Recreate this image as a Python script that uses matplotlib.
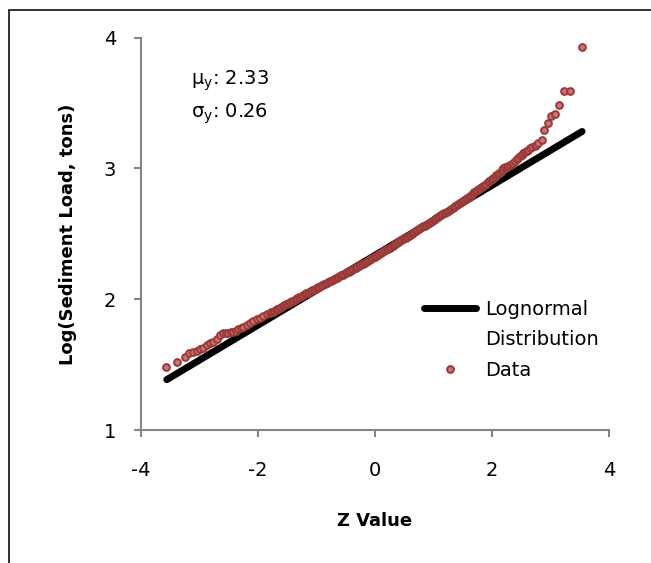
import numpy as np
import matplotlib.pyplot as plt
from matplotlib.lines import Line2D
from matplotlib.patches import Rectangle

plt.rcParams['font.family'] = ['DejaVu Sans']
plt.rcParams['axes.unicode_minus'] = False

# fitted lognormal line (end points)
line_z = [-3.56, 3.54]
line_y = [1.385, 3.283]

# data points, lower tail
low_z = [-3.573, -3.38, -3.253, -3.174, -3.106, -3.048, -2.991, -2.935, -2.877, -2.82,
         -2.764, -2.706, -2.65, -2.593, -2.55, -2.507, -2.46, -2.42, -2.38, -2.337,
         -2.29, -2.25, -2.19, -2.137, -2.08, -2.022, -1.965, -1.91, -1.85, -1.795]
low_y = [1.485, 1.523, 1.561, 1.587, 1.595, 1.607, 1.618, 1.630, 1.651, 1.668,
         1.676, 1.694, 1.727, 1.740, 1.742, 1.745, 1.748, 1.752, 1.760, 1.770,
         1.780, 1.790, 1.803, 1.816, 1.832, 1.847, 1.860, 1.872, 1.885, 1.893]

# data points, middle band
mid_z = [-1.775, -1.75, -1.725, -1.70, -1.675, -1.65, -1.625, -1.60, -1.575, -1.55,
         -1.525, -1.50, -1.475, -1.45, -1.425, -1.40, -1.375, -1.35, -1.325, -1.30,
         -1.275, -1.25, -1.225, -1.20, -1.175, -1.15, -1.125, -1.10, -1.075, -1.05,
         -1.025, -1.00, -0.975, -0.95, -0.925, -0.90, -0.875, -0.85, -0.825, -0.80,
         -0.775, -0.75, -0.725, -0.70, -0.675, -0.65, -0.625, -0.60, -0.575, -0.55,
         -0.525, -0.50, -0.475, -0.45, -0.425, -0.40, -0.375, -0.35, -0.325, -0.30,
         -0.275, -0.25, -0.225, -0.20, -0.175, -0.15, -0.125, -0.10, -0.075, -0.05,
         -0.025, 0.00, 0.025, 0.05, 0.075, 0.10, 0.125, 0.15, 0.175, 0.20,
         0.225, 0.25, 0.275, 0.30, 0.325, 0.35, 0.375, 0.40, 0.425, 0.45,
         0.475, 0.50, 0.525, 0.55, 0.575, 0.60, 0.625, 0.65, 0.675, 0.70,
         0.725, 0.75, 0.775, 0.80, 0.825, 0.85, 0.875, 0.90, 0.925, 0.95,
         0.975, 1.00, 1.025, 1.05, 1.075, 1.10, 1.125, 1.15, 1.175, 1.20,
         1.225, 1.25, 1.275, 1.30, 1.325, 1.35, 1.375, 1.40, 1.425, 1.45,
         1.475, 1.50, 1.525, 1.55, 1.575, 1.60, 1.625, 1.65, 1.675, 1.70,
         1.725, 1.75, 1.775, 1.80, 1.825, 1.85, 1.875, 1.90, 1.925, 1.95,
         1.975, 2.00, 2.025, 2.05, 2.075, 2.10, 2.125, 2.15, 2.172]
mid_y = [1.899, 1.904, 1.911, 1.917, 1.922, 1.928, 1.935, 1.941, 1.947, 1.953,
         1.960, 1.966, 1.972, 1.977, 1.983, 1.989, 1.996, 2.002, 2.008, 2.014,
         2.020, 2.026, 2.032, 2.038, 2.044, 2.050, 2.056, 2.062, 2.068, 2.074,
         2.080, 2.085, 2.091, 2.096, 2.102, 2.108, 2.114, 2.119, 2.125, 2.130,
         2.136, 2.142, 2.148, 2.153, 2.159, 2.164, 2.170, 2.176, 2.182, 2.187,
         2.193, 2.198, 2.205, 2.211, 2.217, 2.223, 2.230, 2.236, 2.242, 2.248,
         2.254, 2.260, 2.267, 2.273, 2.280, 2.286, 2.293, 2.299, 2.306, 2.313,
         2.320, 2.326, 2.333, 2.339, 2.347, 2.354, 2.361, 2.367, 2.374, 2.381,
         2.388, 2.395, 2.402, 2.409, 2.416, 2.422, 2.430, 2.437, 2.444, 2.450,
         2.458, 2.465, 2.472, 2.478, 2.485, 2.492, 2.500, 2.507, 2.514, 2.521,
         2.528, 2.535, 2.543, 2.550, 2.557, 2.564, 2.571, 2.578, 2.585, 2.592,
         2.599, 2.606, 2.613, 2.620, 2.628, 2.635, 2.642, 2.649, 2.656, 2.663,
         2.671, 2.678, 2.685, 2.692, 2.699, 2.706, 2.714, 2.722, 2.730, 2.737,
         2.745, 2.753, 2.761, 2.768, 2.776, 2.784, 2.793, 2.801, 2.809, 2.817,
         2.825, 2.833, 2.842, 2.851, 2.860, 2.868, 2.877, 2.885, 2.894, 2.903,
         2.912, 2.920, 2.929, 2.938, 2.948, 2.957, 2.966, 2.975, 2.988]

# data points, upper tail
high_z = [2.193, 2.222, 2.251, 2.28, 2.308, 2.336, 2.364, 2.393, 2.422, 2.45,
          2.479, 2.507, 2.535, 2.564, 2.593, 2.62, 2.65, 2.69, 2.735, 2.76,
          2.79, 2.855, 2.89, 2.96, 3.01, 3.07, 3.145, 3.23, 3.33, 3.54]
high_y = [3.002, 3.008, 3.014, 3.020, 3.027, 3.035, 3.044, 3.057, 3.070, 3.083,
          3.096, 3.106, 3.116, 3.126, 3.136, 3.145, 3.154, 3.163, 3.172, 3.183,
          3.193, 3.215, 3.292, 3.348, 3.404, 3.419, 3.488, 3.595, 3.595, 3.927]

data_z = low_z + mid_z + high_z
data_y = low_y + mid_y + high_y

mu_y = 2.33
sigma_y = 0.26

gray = '#868686'
edge = '#9a3a38'
face = '#cc7472'

fig = plt.figure(figsize=(6.51, 5.63), dpi=100)
ax = fig.add_axes([0.2166, 0.2362, 0.7189, 0.6968])

ax.plot(line_z, line_y, color='black', lw=5, solid_capstyle='round')
ax.plot(data_z, data_y, linestyle='none', marker='o', ms=4.9,
        mfc=face, mec=edge, mew=1.4)

ax.set_xlim(-4, 4)
ax.set_ylim(1, 4)
ax.set_xticks([-4, -2, 0, 2, 4])
ax.set_yticks([1, 2, 3, 4])

for s in ['top', 'right']:
    ax.spines[s].set_visible(False)
for s in ['left', 'bottom']:
    ax.spines[s].set_color(gray)
    ax.spines[s].set_linewidth(1.5)
ax.tick_params(axis='both', direction='out', length=5, width=1.5, color=gray,
               labelsize=14)
ax.tick_params(axis='x', pad=17)
ax.tick_params(axis='y', pad=13)

ax.set_xlabel('Z Value', fontsize=13, fontweight='bold', labelpad=23)
ax.set_ylabel('Log(Sediment Load, tons)', fontsize=13, fontweight='bold', labelpad=19)

ax.text(0.107, 0.89, r'μ$_\mathregular{y}$: ' + '%.2f' % mu_y, transform=ax.transAxes,
        fontsize=14, va='center')
ax.text(0.107, 0.805, r'σ$_\mathregular{y}$: ' + '%.2f' % sigma_y, transform=ax.transAxes,
        fontsize=14, va='center')

handles = [Line2D([], [], color='black', lw=5, solid_capstyle='round'),
           Line2D([], [], linestyle='none'),
           Line2D([], [], linestyle='none', marker='o', ms=4.9, mfc=face, mec=edge, mew=1.4)]
labels = ['Lognormal', 'Distribution', 'Data']
ax.legend(handles, labels, loc='upper left', bbox_to_anchor=(0.604, 0.332),
          frameon=False, fontsize=14, handlelength=2.7, handletextpad=0.45,
          borderpad=0, borderaxespad=0, labelspacing=0.6, numpoints=1)

# outer chart border
fig.patches.append(Rectangle((9 / 651, -0.1), 1.2, 1.1 - 10 / 563, transform=fig.transFigure,
                             fill=False, edgecolor='#222222', lw=1.3))

plt.savefig('out.png')
